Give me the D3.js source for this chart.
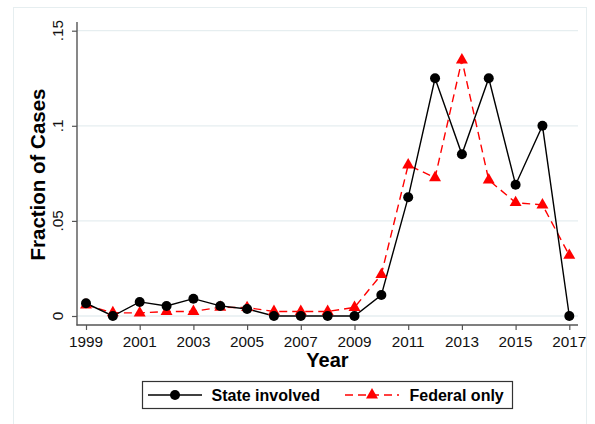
<!DOCTYPE html>
<html>
<head>
<meta charset="utf-8">
<script src="https://cdn.jsdelivr.net/npm/d3@7"></script>
<style>
  html, body { margin: 0; padding: 0; background: #fff; }
  svg { display: block; font-family: "Liberation Sans", Arial, Helvetica, sans-serif; }
</style>
</head>
<body>
<svg id="chart" width="595" height="424"></svg>
<script>
const years = [1999,2000,2001,2002,2003,2004,2005,2006,2007,2008,2009,2010,2011,2012,2013,2014,2015,2016,2017];
const stateInvolved = [0.0067,0,0.0074,0.0053,0.0091,0.0053,0.0037,0,0,0,0,0.011,0.0624,0.125,0.085,0.125,0.069,0.1,0];
const federalOnly = [0.0058,0.0017,0.0016,0.0024,0.0024,0.0046,0.0044,0.0024,0.0024,0.0024,0.0045,0.0218,0.0794,0.0727,0.1346,0.0715,0.0596,0.0584,0.0319];
const xTicks = [1999,2001,2003,2005,2007,2009,2011,2013,2015,2017];
const yTicks = [0,0.05,0.1,0.15];
const yTickLabels = ["0",".05",".1",".15"];
const seriesNames = ["State involved","Federal only"];

const svg = d3.select("#chart");
const gridColor = "#e6eef0";

// outer graph region border
svg.append("rect").attr("x",13.5).attr("y",7.5).attr("width",573).attr("height",430)
  .attr("fill","none").attr("stroke",gridColor).attr("stroke-width",1);

const plotL = 77, plotR = 578, axisY = 325, axisTop = 22;
const x = d3.scaleLinear().domain([1999,2017]).range([86,569.3]);
const y = d3.scaleLinear().domain([0,0.15]).range([316,30.7]);

// gridlines
svg.append("g").selectAll("line").data(yTicks).join("line")
  .attr("x1",plotL).attr("x2",plotR)
  .attr("y1",d=>y(d)).attr("y2",d=>y(d))
  .attr("stroke",gridColor).attr("stroke-width",1.3);

// axes
const axisColor = "#555";
const yAxis = d3.axisLeft(y).tickValues(yTicks).tickSize(5).tickFormat("");
const yg = svg.append("g").attr("transform",`translate(${plotL},0)`).call(yAxis);
yg.select(".domain").remove();
yg.selectAll(".tick line").attr("stroke",axisColor).attr("stroke-width",1.2);
svg.append("line").attr("x1",plotL).attr("x2",plotL).attr("y1",axisTop).attr("y2",axisY+0.5)
  .attr("stroke",axisColor).attr("stroke-width",1.4);

const xAxis = d3.axisBottom(x).tickValues(xTicks).tickSize(5).tickFormat("");
const xg = svg.append("g").attr("transform",`translate(0,${axisY})`).call(xAxis);
xg.select(".domain").remove();
xg.selectAll(".tick line").attr("stroke",axisColor).attr("stroke-width",1.2);
svg.append("line").attr("x1",plotL-0.5).attr("x2",plotR).attr("y1",axisY).attr("y2",axisY)
  .attr("stroke",axisColor).attr("stroke-width",1.4);

// x tick labels
svg.append("g").selectAll("text").data(xTicks).join("text")
  .attr("x",d=>x(d)).attr("y",346.5).attr("text-anchor","middle")
  .attr("font-size",15.3).attr("fill","#111").text(d=>d);

// y tick labels (rotated)
svg.append("g").selectAll("text").data(yTicks).join("text")
  .attr("transform",(d)=>`translate(63,${y(d)}) rotate(-90)`)
  .attr("text-anchor","middle").attr("font-size",15.3).attr("fill","#111")
  .text((d,i)=>yTickLabels[i]);

// axis titles
svg.append("text").attr("x",(plotL+plotR)/2).attr("y",366.5).attr("text-anchor","middle")
  .attr("font-size",20).attr("font-weight","bold").attr("fill","#000").text("Year");
svg.append("text").attr("transform",`translate(45,${(axisTop+axisY)/2+1}) rotate(-90)`)
  .attr("text-anchor","middle").attr("font-size",20.5).attr("font-weight","bold").attr("fill","#000")
  .text("Fraction of Cases");

// lines
const stateData = years.map((yr,i)=>({yr, v: stateInvolved[i]}));
const fedData = years.map((yr,i)=>({yr, v: federalOnly[i]}));
const line = d3.line().x(d=>x(d.yr)).y(d=>y(d.v));

svg.append("path").datum(fedData).attr("d",line).attr("fill","none")
  .attr("stroke","#ff0000").attr("stroke-width",1.4).attr("stroke-dasharray","8,5");
svg.append("path").datum(stateData).attr("d",line).attr("fill","none")
  .attr("stroke","#000").attr("stroke-width",1.4);

const tri = d3.symbol().type(d3.symbolTriangle).size(62);
svg.append("g").selectAll("path").data(fedData).join("path")
  .attr("d",tri).attr("transform",d=>`translate(${x(d.yr)},${y(d.v)})`).attr("fill","#ff0000");
svg.append("g").selectAll("circle").data(stateData).join("circle")
  .attr("cx",d=>x(d.yr)).attr("cy",d=>y(d.v)).attr("r",5).attr("fill","#000");

// legend
const lg = svg.append("g");
lg.append("rect").attr("x",142.5).attr("y",381.5).attr("width",370).attr("height",27)
  .attr("fill","#fff").attr("stroke","#333").attr("stroke-width",1.2);
const ly = 395;
lg.append("line").attr("x1",148).attr("x2",202).attr("y1",ly).attr("y2",ly).attr("stroke","#000").attr("stroke-width",1.4);
lg.append("circle").attr("cx",175).attr("cy",ly).attr("r",5).attr("fill","#000");
lg.append("text").attr("x",211.5).attr("y",ly+5.7).attr("font-size",16).attr("font-weight","bold").text(seriesNames[0]);
lg.append("line").attr("x1",345).attr("x2",399).attr("y1",ly).attr("y2",ly).attr("stroke","#ff0000").attr("stroke-width",1.4).attr("stroke-dasharray","8,5");
lg.append("path").attr("d",tri).attr("transform",`translate(372,${ly})`).attr("fill","#ff0000");
lg.append("text").attr("x",409.5).attr("y",ly+5.7).attr("font-size",16).attr("font-weight","bold").text(seriesNames[1]);
</script>
</body>
</html>
